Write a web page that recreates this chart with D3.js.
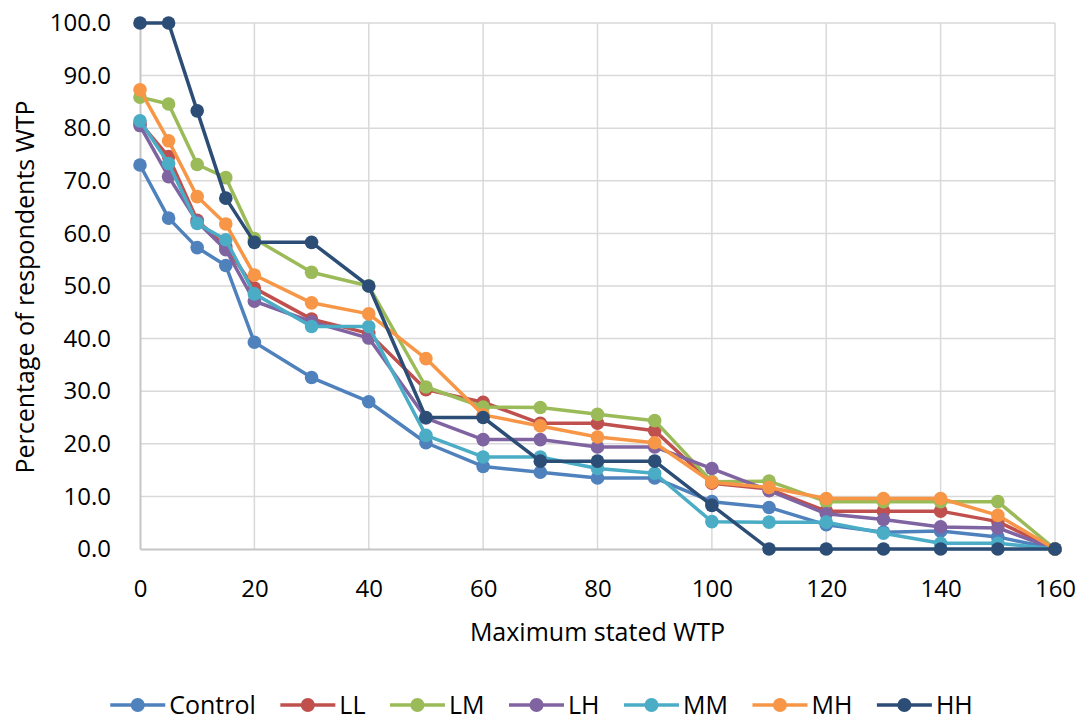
<!DOCTYPE html>
<html>
<head>
<meta charset="utf-8">
<script src="https://cdn.jsdelivr.net/npm/d3@7"></script>
<style>
  html, body { margin: 0; padding: 0; background: #fff; }
  svg { display: block; }
  text { font-family: "Open Sans", "Noto Sans", sans-serif; fill: #000; }
</style>
</head>
<body>
<svg id="chart" width="1084" height="720"></svg>
<script>
// Maximum stated WTP levels (x axis)
const wtp = [0, 5, 10, 15, 20, 30, 40, 50, 60, 70, 80, 90, 100, 110, 120, 130, 140, 150, 160];

// Percentage of respondents willing to pay, per treatment group
const control = [73.0, 62.9, 57.3, 53.9, 39.3, 32.6, 28.0, 20.2, 15.7, 14.6, 13.5, 13.5, 9.0, 7.9, 4.6, 3.2, 3.4, 2.3, 0];
const ll      = [81.0, 74.6, 62.5, 57.5, 49.6, 43.7, 41.0, 30.3, 27.9, 23.9, 23.9, 22.5, 12.5, 11.4, 7.2, 7.2, 7.2, 5.2, 0];
const lm      = [85.9, 84.6, 73.1, 70.6, 59.0, 52.6, 50.0, 30.8, 27.0, 26.9, 25.6, 24.4, 12.8, 12.9, 9.0, 9.0, 9.0, 9.0, 0];
const lh      = [80.5, 70.8, 62.2, 56.9, 47.1, 43.2, 40.1, 24.9, 20.8, 20.8, 19.4, 19.4, 15.3, 11.1, 6.7, 5.6, 4.2, 4.0, 0];
const mm      = [81.4, 73.3, 61.9, 58.8, 48.5, 42.3, 42.3, 21.6, 17.5, 17.5, 15.3, 14.4, 5.2, 5.1, 5.1, 3.0, 1.1, 1.1, 0];
const mh      = [87.3, 77.6, 67.0, 61.8, 52.1, 46.8, 44.7, 36.2, 25.5, 23.4, 21.3, 20.2, 12.7, 11.7, 9.6, 9.6, 9.6, 6.4, 0];
const hh      = [100.0, 100.0, 83.3, 66.7, 58.3, 58.3, 50.0, 25.0, 25.0, 16.7, 16.7, 16.7, 8.3, 0, 0, 0, 0, 0, 0];

const seriesNames = ["Control", "LL", "LM", "LH", "MM", "MH", "HH"];
const seriesValues = [control, ll, lm, lh, mm, mh, hh];
const seriesColors = ["#4F81BD", "#C0504D", "#9BBB59", "#8064A2", "#4BACC6", "#F79646", "#2C4D75"];

const xTicks = [0, 20, 40, 60, 80, 100, 120, 140, 160];
const yTicks = [0, 10, 20, 30, 40, 50, 60, 70, 80, 90, 100];

const svg = d3.select("#chart");
const margin = { left: 140, right: 29, top: 23, bottom: 171 };
const W = 1084, H = 720;

const x = d3.scaleLinear().domain([0, 160]).range([margin.left, W - margin.right]);
const y = d3.scaleLinear().domain([0, 100]).range([H - margin.bottom, margin.top]);

// Gridlines
const grid = svg.append("g");
grid.selectAll("line.h").data(yTicks.filter(d => d > 0)).join("line")
  .attr("x1", x(0)).attr("x2", x(160))
  .attr("y1", d => y(d)).attr("y2", d => y(d))
  .attr("stroke", "#d9d9d9").attr("stroke-width", 1.5);
grid.selectAll("line.v").data(xTicks.filter(d => d > 0)).join("line")
  .attr("x1", d => x(d)).attr("x2", d => x(d))
  .attr("y1", y(0)).attr("y2", y(100))
  .attr("stroke", "#d9d9d9").attr("stroke-width", 1.5);

// Axes
const xAxis = svg.append("g")
  .attr("transform", `translate(0,${y(0)})`)
  .call(d3.axisBottom(x).tickValues(xTicks).tickSize(0).tickPadding(31).tickFormat(d3.format("d")));
xAxis.select(".domain").attr("stroke", "#c6c6c6").attr("stroke-width", 2);
xAxis.selectAll("text").style("font-size", "24px").attr("fill", "#000");

const yAxis = svg.append("g")
  .attr("transform", `translate(${x(0)},0)`)
  .call(d3.axisLeft(y).tickValues(yTicks).tickSize(0).tickPadding(29).tickFormat(d3.format(".1f")));
yAxis.select(".domain").attr("stroke", "#c6c6c6").attr("stroke-width", 2);
yAxis.selectAll("text").style("font-size", "24px").attr("fill", "#000");

// Axis titles
svg.append("text")
  .attr("x", x(80)).attr("y", 641)
  .attr("text-anchor", "middle")
  .style("font-size", "25px")
  .text("Maximum stated WTP");

svg.append("text")
  .attr("transform", `translate(34,${(y(0) + y(100)) / 2 + 1}) rotate(-90)`)
  .attr("text-anchor", "middle")
  .style("font-size", "25px")
  .text("Percentage of respondents WTP");

// Series lines and markers
const line = d3.line().x((d, i) => x(wtp[i])).y(d => y(d));
seriesValues.forEach((vals, k) => {
  const g = svg.append("g");
  g.append("path")
    .datum(vals)
    .attr("d", line)
    .attr("fill", "none")
    .attr("stroke", seriesColors[k])
    .attr("stroke-width", 3.5)
    .attr("stroke-linejoin", "round");
  g.selectAll("circle").data(vals).join("circle")
    .attr("cx", (d, i) => x(wtp[i]))
    .attr("cy", d => y(d))
    .attr("r", 6.8)
    .attr("fill", seriesColors[k]);
});

// Legend
const legend = svg.append("g");
const legendY = 705;
const items = legend.selectAll("g").data(seriesNames).join("g");
items.append("line")
  .attr("x1", 0).attr("x2", 55).attr("y1", 0).attr("y2", 0)
  .attr("stroke", (d, i) => seriesColors[i]).attr("stroke-width", 3.5);
items.append("circle")
  .attr("cx", 27.5).attr("cy", 0).attr("r", 7)
  .attr("fill", (d, i) => seriesColors[i]);
items.append("text")
  .attr("x", 59).attr("y", 0).attr("dy", "0.36em")
  .style("font-size", "25px")
  .text(d => d);

let offsets = [], cursor = 0;
const gap = 24.5;
items.each(function () {
  offsets.push(cursor);
  const w = 59 + this.querySelector("text").getComputedTextLength();
  cursor += w + gap;
});
const totalW = cursor - gap;
const startX = (110 + 973) / 2 - totalW / 2;
items.attr("transform", (d, i) => `translate(${startX + offsets[i]},${legendY})`);
</script>
</body>
</html>
